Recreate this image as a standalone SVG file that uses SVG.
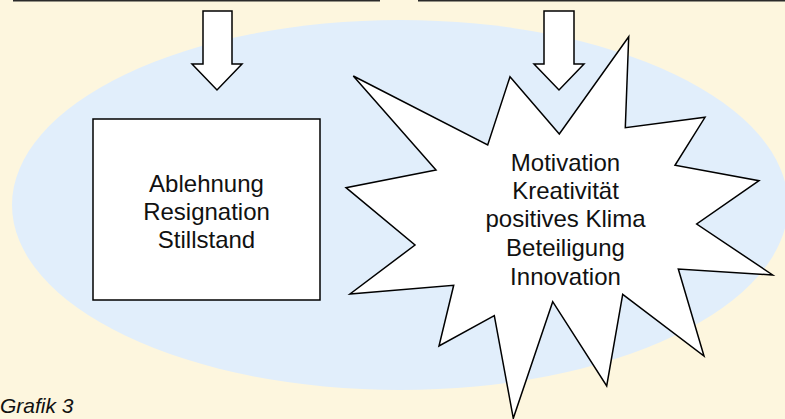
<svg xmlns="http://www.w3.org/2000/svg" width="785" height="419" viewBox="0 0 785 419">
<style>
.shape{fill:#ffffff;stroke:#000000;stroke-width:1.5;stroke-linejoin:miter}
.lbl{font-family:"Liberation Sans",Arial,sans-serif;font-size:24px;fill:#111111;text-anchor:middle}
.edge{stroke:#2a2a2a;stroke-width:2;fill:none}
</style>
<rect x="0" y="0" width="785" height="419" fill="#FDF6DE"/>
<ellipse cx="400" cy="205" rx="388" ry="185" fill="#E1EEFB"/>
<g id="connectors">
<line class="edge" x1="13" y1="0.5" x2="380" y2="0.5"/>
<line class="edge" x1="418" y1="0.5" x2="785" y2="0.5"/>
<polygon class="shape" points="203,11 232,11 232,64 242,64 217,90 192,64 203,64"/>
<polygon class="shape" points="544,11 574,11 574,64 584,64 559,90 534,64 544,64"/>
</g>
<g id="node-negative">
<rect class="shape" x="93" y="119" width="227" height="181"/>
<text class="lbl" x="206.5" y="192">Ablehnung</text>
<text class="lbl" x="206.5" y="220">Resignation</text>
<text class="lbl" x="206.5" y="248">Stillstand</text>
</g>
<g id="node-positive">
<polygon class="shape" points="353.3,76 487.7,145 510,76.7 559.3,134 628.7,36.7 625.3,127.7 705,117.3 675,165.3 759,180.7 696.7,224 772.7,275 678.3,269 704,356 622.7,294.3 606.7,386 552.7,301.7 513.3,418.3 494.3,315.7 439,346 453.7,285.3 350,294 415,245 346,187.7 436,170"/>
<text class="lbl" x="565.5" y="171">Motivation</text>
<text class="lbl" x="565.5" y="199">Kreativität</text>
<text class="lbl" x="565.5" y="227">positives Klima</text>
<text class="lbl" x="565.5" y="256">Beteiligung</text>
<text class="lbl" x="565.5" y="285">Innovation</text>
</g>
<text x="0" y="413" font-family="Liberation Sans, Arial, sans-serif" font-size="21" font-style="italic" fill="#111111">Grafik 3</text>
</svg>
